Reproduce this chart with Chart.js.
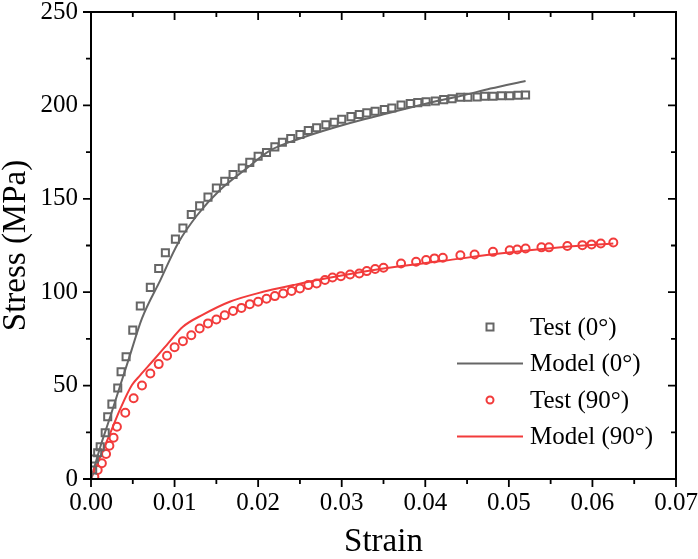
<!DOCTYPE html>
<html>
<head>
<meta charset="utf-8">
<script src="https://cdn.jsdelivr.net/npm/chart.js@4.4.1/dist/chart.umd.min.js"></script>
<style>
html,body{margin:0;padding:0;background:#ffffff;}
canvas{display:block;}
</style>
</head>
<body>
<canvas id="c" width="698" height="559"></canvas>
<script>
// ---------- data ----------
const seriesNames = ['Test (0°)', 'Model (0°)', 'Test (90°)', 'Model (90°)'];

const test0Strain = [0.0002,0.0004,0.0008,0.0011,0.0017,0.0020,0.0025,0.0032,0.0036,0.0042,0.0050,0.0059,0.0071,0.0081,0.0089,0.0101,0.0110,0.0120,0.0130,0.0140,0.0150,0.0160,0.0170,0.0181,0.0190,0.0200,0.0210,0.0220,0.0229,0.0239,0.0250,0.0260,0.0270,0.0281,0.0291,0.0300,0.0311,0.0321,0.0330,0.0340,0.0351,0.0360,0.0371,0.0382,0.0391,0.0401,0.0412,0.0422,0.0432,0.0442,0.0451,0.0462,0.0471,0.0481,0.0491,0.0501,0.0511,0.0520];
const test0Stress = [4.8,10.7,14.1,17.3,24.8,33.3,40.1,48.7,57.4,65.4,79.7,92.6,102.6,112.7,121.1,128.4,134.4,141.6,146.2,150.9,155.8,159.4,163.0,166.5,169.5,172.8,174.8,177.8,180.3,182.3,184.4,186.6,188.0,189.6,191.0,192.6,194.0,195.1,196.0,196.9,197.8,198.6,200.2,201.0,201.5,202.0,202.4,203.1,203.6,204.4,204.4,204.5,204.9,204.9,205.2,205.2,205.4,205.6];

const model0Strain = [0,0.0011,0.0023,0.0034,0.0046,0.0061,0.0083,0.0104,0.0127,0.0154,0.0186,0.0215,0.0250,0.0310,0.0346,0.0414,0.0442,0.0478,0.0520];
const model0Stress = [0,17.0,33.3,48.7,65.4,86.0,106.5,126.1,141.2,154.6,166.2,176.0,182.3,190.6,194.7,202.4,205.0,209.0,213.1];

const test90Strain = [0.0004,0.0008,0.0013,0.0018,0.0022,0.0027,0.0031,0.0041,0.0051,0.0061,0.0071,0.0081,0.0091,0.0100,0.0110,0.0120,0.0130,0.0140,0.0150,0.0160,0.0170,0.0180,0.0190,0.0200,0.0210,0.0220,0.0230,0.0240,0.0250,0.0260,0.0270,0.0280,0.0289,0.0299,0.0310,0.0321,0.0330,0.0340,0.0350,0.0371,0.0389,0.0401,0.0411,0.0421,0.0442,0.0459,0.0481,0.0501,0.0510,0.0520,0.0539,0.0548,0.0570,0.0588,0.0599,0.0610,0.0625];
const test90Stress = [1.2,4.8,8.4,13.4,17.8,22.1,28.0,35.5,43.2,50.1,56.5,61.5,66.0,70.5,73.8,77.0,80.6,83.3,85.4,87.7,89.9,91.6,93.6,94.9,96.5,97.9,99.3,100.7,102.0,103.8,104.7,106.5,107.9,108.6,109.5,110.0,111.3,112.4,113.1,115.4,116.3,117.2,118.1,118.4,119.8,120.2,121.6,122.5,122.9,123.4,124.0,124.0,124.7,125.2,125.6,126.1,126.6];

const model90Strain = [0,0.0011,0.0023,0.0035,0.0049,0.0059,0.0075,0.0092,0.0110,0.0134,0.0166,0.0206,0.0242,0.0274,0.0350,0.0422,0.0489,0.0569,0.0625];
const model90Stress = [0,11.9,24.5,37.5,50.3,55.6,63.7,72.5,81.5,88.0,94.9,100.2,103.8,106.8,112.7,116.8,120.7,124.3,126.1];

const xTickValues = [0,0.01,0.02,0.03,0.04,0.05,0.06,0.07];
const xTickLabels = ['0.00','0.01','0.02','0.03','0.04','0.05','0.06','0.07'];
const yTickValues = [0,50,100,150,200,250];
const yTickLabels = ['0','50','100','150','200','250'];
const xTitle = 'Strain';
const yTitle = 'Stress (MPa)';

// ---------- styling ----------
const GRAY = '#666666';
const RED = '#f23b3b';
const FONT = "'Liberation Serif', 'Times New Roman', serif";

const pts = (xs, ys) => xs.map((x, i) => ({x: x, y: ys[i]}));

const frameTicks = {
  id: 'frameTicks',
  afterDraw(chart) {
    const {ctx, chartArea: a, scales: {x, y}} = chart;
    ctx.save();
    ctx.strokeStyle = '#000';
    ctx.lineWidth = 2;
    ctx.lineCap = 'butt';
    ctx.strokeRect(a.left, a.top, a.right - a.left, a.bottom - a.top);
    ctx.lineWidth = 1.8;
    const xs = xTickValues;
    const xstep = xs[1] - xs[0];
    ctx.beginPath();
    xs.forEach((v, i) => {
      const p = x.getPixelForValue(v);
      ctx.moveTo(p, a.bottom); ctx.lineTo(p, a.bottom + 8);
      ctx.moveTo(p, a.top); ctx.lineTo(p, a.top + 8);
      if (i < xs.length - 1) {
        const m = x.getPixelForValue(v + xstep / 2);
        ctx.moveTo(m, a.bottom); ctx.lineTo(m, a.bottom + 5);
        ctx.moveTo(m, a.top); ctx.lineTo(m, a.top + 5);
      }
    });
    const ys = yTickValues;
    const ystep = ys[1] - ys[0];
    ys.forEach((v, i) => {
      const p = y.getPixelForValue(v);
      ctx.moveTo(a.left, p); ctx.lineTo(a.left - 8, p);
      ctx.moveTo(a.right, p); ctx.lineTo(a.right - 8, p);
      if (i < ys.length - 1) {
        const m = y.getPixelForValue(v + ystep / 2);
        ctx.moveTo(a.left, m); ctx.lineTo(a.left - 5, m);
        ctx.moveTo(a.right, m); ctx.lineTo(a.right - 5, m);
      }
    });
    ctx.stroke();

    // legend inside plot area
    const lx = a.left + 366, ly0 = a.bottom - 152, step = 36.5;
    ctx.font = "25px " + FONT;
    ctx.textBaseline = 'middle';
    ctx.textAlign = 'left';
    chart.data.datasets.forEach((ds, i) => {
      const yy = ly0 + i * step;
      ctx.save();
      if (ds.showLine === false) {
        ctx.strokeStyle = ds.pointBorderColor;
        ctx.lineWidth = 2;
        const cx = lx + 33;
        if (ds.pointStyle === 'rect') {
          ctx.strokeRect(cx - 3.5, yy - 3.5, 7, 7);
        } else {
          ctx.beginPath(); ctx.arc(cx, yy, 3.5, 0, Math.PI * 2); ctx.stroke();
        }
      } else {
        ctx.strokeStyle = ds.borderColor;
        ctx.lineWidth = 2;
        ctx.beginPath(); ctx.moveTo(lx, yy); ctx.lineTo(lx + 66, yy); ctx.stroke();
      }
      ctx.restore();
      ctx.fillStyle = '#000';
      ctx.fillText(ds.label, lx + 73, yy + 1);
    });
    ctx.restore();
  }
};

new Chart(document.getElementById('c'), {
  type: 'scatter',
  data: {
    datasets: [
      {label: seriesNames[0], data: pts(test0Strain, test0Stress), showLine: false,
       pointStyle: 'rect', pointRadius: 5, pointBorderWidth: 2,
       pointBorderColor: GRAY, pointBackgroundColor: 'rgba(0,0,0,0)', order: 1},
      {label: seriesNames[1], data: pts(model0Strain, model0Stress), showLine: true,
       borderColor: GRAY, borderWidth: 2, pointRadius: 0, cubicInterpolationMode: 'monotone', order: 2},
      {label: seriesNames[2], data: pts(test90Strain, test90Stress), showLine: false,
       pointStyle: 'circle', pointRadius: 4, pointBorderWidth: 2,
       pointBorderColor: RED, pointBackgroundColor: 'rgba(0,0,0,0)', order: 1},
      {label: seriesNames[3], data: pts(model90Strain, model90Stress), showLine: true,
       borderColor: RED, borderWidth: 2, pointRadius: 0, cubicInterpolationMode: 'monotone', order: 2}
    ]
  },
  options: {
    responsive: false,
    animation: false,
    devicePixelRatio: 1,
    layout: {padding: {top: 12, right: 22, left: 0, bottom: 0}},
    plugins: {legend: {display: false}, tooltip: {enabled: false}},
    scales: {
      x: {
        type: 'linear', min: 0, max: 0.07,
        afterBuildTicks: s => { s.ticks = xTickValues.map(v => ({value: v})); },
        afterFit: s => { s.height = 80; s.paddingLeft = 0; s.paddingRight = 0; },
        grid: {display: false, drawTicks: false},
        border: {display: false},
        ticks: {padding: 9, color: '#000', font: {family: FONT, size: 25},
                maxRotation: 0, autoSkip: false,
                callback: (v, i) => xTickLabels[i]},
        title: {display: true, text: xTitle, color: '#000',
                font: {family: FONT, size: 33, lineHeight: 1}, padding: {top: 0, bottom: 0}}
      },
      y: {
        type: 'linear', min: 0, max: 250,
        afterBuildTicks: s => { s.ticks = yTickValues.map(v => ({value: v})); },
        afterFit: s => { s.width = 91; s.paddingTop = 0; s.paddingBottom = 0; },
        grid: {display: false, drawTicks: false},
        border: {display: false},
        ticks: {padding: 13, color: '#000', font: {family: FONT, size: 25},
                autoSkip: false, callback: (v, i) => yTickLabels[i]},
        title: {display: true, text: yTitle, color: '#000',
                font: {family: FONT, size: 33, lineHeight: 1}, padding: {top: 0, bottom: 0}}
      }
    }
  },
  plugins: [frameTicks]
});
</script>
</body>
</html>
